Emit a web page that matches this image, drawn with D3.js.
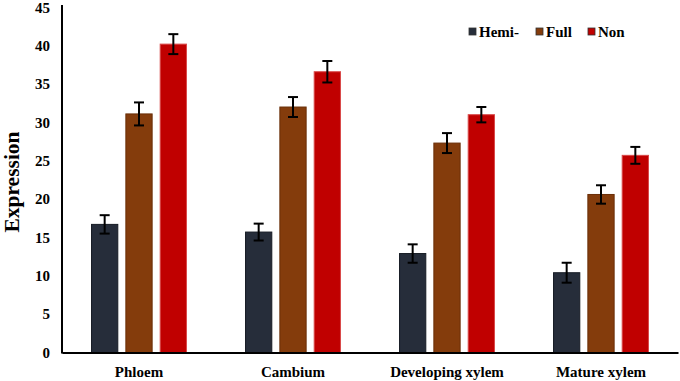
<!DOCTYPE html>
<html><head><meta charset="utf-8">
<script src="https://cdn.jsdelivr.net/npm/d3@7"></script>
<style>
html,body{margin:0;padding:0;background:#fff;}
text{font-family:"Liberation Serif","Times New Roman",serif;font-weight:bold;fill:#000;}
</style></head>
<body><svg id="c" width="680" height="381"></svg>
<script>
const categories = ["Phloem", "Cambium", "Developing xylem", "Mature xylem"];
const seriesNames = ["Hemi-", "Full", "Non"];
const hemiValues = [16.7, 15.7, 12.9, 10.4];
const fullValues = [31.1, 32.0, 27.3, 20.6];
const nonValues  = [40.2, 36.6, 31.0, 25.7];
const hemiErr = [1.2, 1.1, 1.2, 1.3];
const fullErr = [1.5, 1.3, 1.3, 1.2];
const nonErr  = [1.3, 1.4, 1.0, 1.1];
const yTicks = [0, 5, 10, 15, 20, 25, 30, 35, 40, 45];
const colors = ["#262d3a", "#843c0c", "#c00000"];
const strokes = ["#161b24", "#6a2e08", "#d84848"];

const series = [
  {name: seriesNames[0], values: hemiValues, err: hemiErr},
  {name: seriesNames[1], values: fullValues, err: fullErr},
  {name: seriesNames[2], values: nonValues, err: nonErr}
];

const svg = d3.select("#c");
const x0 = d3.scaleBand().domain(categories).range([62, 678]).padding(0);
const x1 = d3.scaleBand().domain(seriesNames).range([0, x0.bandwidth()])
  .paddingInner(0.235).paddingOuter(0.86);
const y = d3.scaleLinear().domain([0, 45]).range([352.5, 7.3]);

// y tick labels
const yAxis = svg.append("g").attr("transform", "translate(62,0)")
  .call(d3.axisLeft(y).tickValues(yTicks).tickSize(0).tickPadding(12));
yAxis.select(".domain").remove();
yAxis.selectAll("text").style("font-size", "15px")
  .style("font-family", "'Liberation Serif',serif").style("font-weight", "bold");

// bars
const groups = svg.append("g").selectAll("g").data(series).join("g");
groups.each(function(s, si) {
  const g = d3.select(this);
  g.selectAll("rect").data(categories).join("rect")
    .attr("x", (c) => x0(c) + x1(s.name))
    .attr("y", (c, i) => y(s.values[i]))
    .attr("width", x1.bandwidth())
    .attr("height", (c, i) => y(0) - y(s.values[i]))
    .attr("fill", colors[si])
    .attr("stroke", strokes[si]).attr("stroke-width", 1);
});

// error bars
const cap = 5;
series.forEach((s) => {
  const g = svg.append("g").attr("stroke", "#000").attr("stroke-width", 2);
  categories.forEach((c, i) => {
    const cx = x0(c) + x1(s.name) + x1.bandwidth() / 2;
    const top = y(s.values[i] + s.err[i]);
    const bot = y(s.values[i] - s.err[i]);
    g.append("line").attr("x1", cx).attr("x2", cx).attr("y1", top).attr("y2", bot);
    g.append("line").attr("x1", cx - cap).attr("x2", cx + cap).attr("y1", top).attr("y2", top);
    g.append("line").attr("x1", cx - cap).attr("x2", cx + cap).attr("y1", bot).attr("y2", bot);
  });
});

// axes lines
svg.append("line").attr("x1", 62).attr("x2", 62).attr("y1", 5).attr("y2", y(0) + 1)
  .attr("stroke", "#000").attr("stroke-width", 2);
const xAxis = svg.append("g").attr("transform", `translate(0,${y(0)})`)
  .call(d3.axisBottom(x0).tickSize(0).tickPadding(14));
xAxis.select(".domain").attr("stroke", "#000").attr("stroke-width", 2);
xAxis.selectAll("text").style("font-size", "15px")
  .style("font-family", "'Liberation Serif',serif").style("font-weight", "bold");

// y title
svg.append("text")
  .attr("transform", "translate(19,182) rotate(-90)")
  .attr("text-anchor", "middle")
  .style("font-size", "21.5px")
  .text("Expression");

// legend
const legX = [469, 536, 588];
const leg = svg.append("g");
series.forEach((s, i) => {
  leg.append("rect").attr("x", legX[i]).attr("y", 28).attr("width", 7).attr("height", 7)
    .attr("fill", colors[i]).attr("stroke", "#333").attr("stroke-width", 0.8);
  leg.append("text").attr("x", legX[i] + 10).attr("y", 37).style("font-size", "15px")
    .text(s.name);
});
</script></body></html>
